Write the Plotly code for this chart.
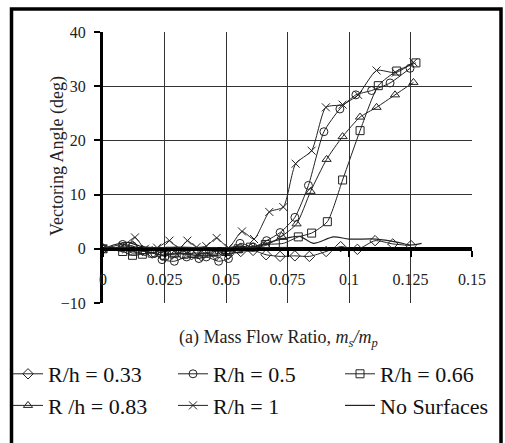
import plotly.graph_objects as go

# ---- data ----
x_033 = [0, 0.008, 0.012, 0.016, 0.020, 0.024, 0.028, 0.032, 0.036, 0.040, 0.046, 0.051, 0.056,
         0.061, 0.0663, 0.072, 0.078, 0.0839, 0.0907, 0.0966, 0.1034, 0.1106, 0.1178, 0.1252]
y_033 = [0, 0.2, 0.5, -0.3, -0.8, -1.2, -1.0, -0.9, -1.1, -1.3, -1.2, -1.0, -0.5,
         -0.3, -1.1, -1.4, -1.3, -1.4, -0.5, 0.4, -0.1, 1.5, 0.9, 0.6]

x_050 = [0, 0.008, 0.012, 0.017, 0.021, 0.024, 0.029, 0.034, 0.039, 0.042, 0.047, 0.051, 0.0557,
         0.061, 0.0665, 0.072, 0.078, 0.0835, 0.0898, 0.0963, 0.1028, 0.1092, 0.1167, 0.1248]
y_050 = [0, 0.8, 0.5, -0.5, -0.8, -2.0, -2.3, -1.5, -1.8, -1.5, -2.3, -1.8, 1.0,
         0.3, 1.5, 3.0, 5.8, 11.7, 21.6, 25.8, 28.4, 29.2, 30.6, 33.3]

x_066 = [0, 0.008, 0.012, 0.016, 0.020, 0.025, 0.029, 0.033, 0.037, 0.041, 0.045, 0.050, 0.055,
         0.060, 0.066, 0.0733, 0.0794, 0.0848, 0.0912, 0.0974, 0.1045, 0.1119, 0.1194, 0.1272]
y_066 = [0, -0.5, -1.2, -1.0, -0.8, -1.2, -0.8, -1.0, -0.8, -0.8, -0.5, -0.5, 0.0,
         0.3, 0.8, 1.0, 2.2, 2.9, 5.0, 12.7, 21.8, 30.1, 32.8, 34.3]

x_083 = [0, 0.008, 0.012, 0.016, 0.020, 0.025, 0.029, 0.033, 0.037, 0.041, 0.045, 0.050, 0.055,
         0.060, 0.066, 0.0726, 0.0787, 0.0844, 0.0909, 0.0974, 0.1045, 0.1112, 0.1187, 0.1262]
y_083 = [0, 0.0, -0.8, -0.5, -0.3, -0.8, -1.0, -0.5, -1.2, -0.8, -1.0, -0.5, -0.3,
         0.2, 0.6, 2.3, 4.6, 10.6, 16.5, 20.7, 24.3, 26.1, 28.4, 30.7]

x_100 = [0, 0.008, 0.013, 0.017, 0.022, 0.027, 0.031, 0.0343, 0.038, 0.042, 0.0462, 0.051, 0.0565,
         0.0614, 0.0676, 0.0733, 0.0783, 0.0848, 0.0906, 0.0974, 0.1037, 0.1112, 0.1190, 0.1262]
y_100 = [0, 0.5, 2.1, 0.0, 0.2, 1.5, 0.0, 1.5, 0.3, 0.5, 2.0, 0.2, 3.2,
         1.8, 6.8, 7.7, 15.7, 18.1, 26.1, 26.6, 28.4, 32.9, 32.5, 34.4]

x_none = [0, 0.005, 0.010, 0.015, 0.020, 0.030, 0.040, 0.050, 0.055, 0.060, 0.065, 0.070,
          0.075, 0.080, 0.0855, 0.0937, 0.100, 0.111, 0.120, 0.125, 0.1295]
y_none = [0, 0.8, 1.2, 0.5, 0.2, 0.3, 0.2, 0.1, 0.5, 0.3, 0.8, 1.5,
          2.0, 2.3, 1.0, 2.2, 1.8, 1.8, 1.2, 0.7, 1.0]

x_ticks = [0, 0.025, 0.05, 0.075, 0.1, 0.125, 0.15]
x_ticktext = ["0", "0.025", "0.05", "0.075", "0.1", "0.125", "0.15"]
y_ticks = [-10, 0, 10, 20, 30, 40]

series = [
    ("R/h = 0.33", x_033, y_033, "diamond-open", "legend"),
    ("R/h = 0.5", x_050, y_050, "circle-open", "legend2"),
    ("R/h = 0.66", x_066, y_066, "square-open", "legend3"),
    ("R /h = 0.83", x_083, y_083, "triangle-up-open", "legend"),
    ("R/h = 1", x_100, y_100, "x-thin-open", "legend2"),
]

SERIF = "Liberation Serif"
fig = go.Figure()
for name, xs, ys, sym, lg in series:
    fig.add_trace(go.Scatter(
        x=xs, y=ys, name=name, mode="lines+markers",
        line=dict(color="#222", width=1, shape="spline", smoothing=0.6),
        marker=dict(symbol=sym, size=8, color="#222", line=dict(color="#222", width=1)),
        legend=lg,
    ))
fig.add_trace(go.Scatter(
    x=x_none, y=y_none, name="No Surfaces", mode="lines",
    line=dict(color="#222", width=1.2, shape="spline", smoothing=0.8),
    legend="legend3",
))

W, H = 505, 443
L, R, T, B = 103, 33, 32, 140
pw, ph = W - L - R, H - T - B

def px(xp):
    return (xp - L) / pw

def py(yp):
    return (H - B - yp) / ph

leg_common = dict(orientation="v", font=dict(family=SERIF, size=22, color="#111"),
                  bgcolor="rgba(0,0,0,0)", xanchor="left", yanchor="top",
                  tracegroupgap=0)

frame = dict(color="black", width=3.5)
fig.update_layout(
    width=W, height=H,
    margin=dict(l=L, r=R, t=T, b=B, autoexpand=False),
    paper_bgcolor="white", plot_bgcolor="white",
    font=dict(family=SERIF, color="#111"),
    showlegend=True,
    legend=dict(x=px(8), y=py(353), **leg_common),
    legend2=dict(x=px(173), y=py(353), **leg_common),
    legend3=dict(x=px(340), y=py(353), **leg_common),
    xaxis=dict(
        range=[0, 0.15], tickvals=x_ticks, ticktext=x_ticktext,
        anchor="free", position=0.2,
        showgrid=True, gridcolor="#333", gridwidth=1.2,
        showline=True, linecolor="black", linewidth=3,
        zeroline=False, ticks="outside", ticklen=6, tickwidth=1.5, tickcolor="black",
        tickfont=dict(family=SERIF, size=16, color="#222"),
        ticklabelstandoff=9,
    ),
    yaxis=dict(
        range=[-10, 40], tickvals=y_ticks,
        showgrid=True, gridcolor="#333", gridwidth=1.2,
        showline=True, linecolor="black", linewidth=3,
        zeroline=True, zerolinecolor="black", zerolinewidth=3,
        ticks="outside", ticklen=6, tickwidth=1.5, tickcolor="black",
        tickfont=dict(family=SERIF, size=16, color="#222"),
        ticklabelstandoff=5,
    ),
    annotations=[
        dict(text="Vectoring Angle (deg)", xref="paper", yref="paper",
             x=px(57), y=py(156), xanchor="center", yanchor="middle",
             textangle=-90, showarrow=False,
             font=dict(family=SERIF, size=18, color="#222")),
        dict(text="(a) Mass Flow Ratio, <i>m<sub>s</sub>/m<sub>p</sub></i>",
             xref="paper", yref="paper", x=px(278), y=py(338),
             xanchor="center", yanchor="middle", showarrow=False,
             font=dict(family=SERIF, size=18, color="#222")),
    ],
    shapes=[
        dict(type="rect", xref="paper", yref="paper",
             x0=px(11.5), x1=px(501), y0=py(470), y1=py(9),
             line=frame, fillcolor="rgba(0,0,0,0)", layer="above"),
    ],
)

fig.write_html(
    "out.html",
    config={"displayModeBar": False},
    post_script="document.body.style.margin='0';document.body.style.overflow='hidden';",
)
